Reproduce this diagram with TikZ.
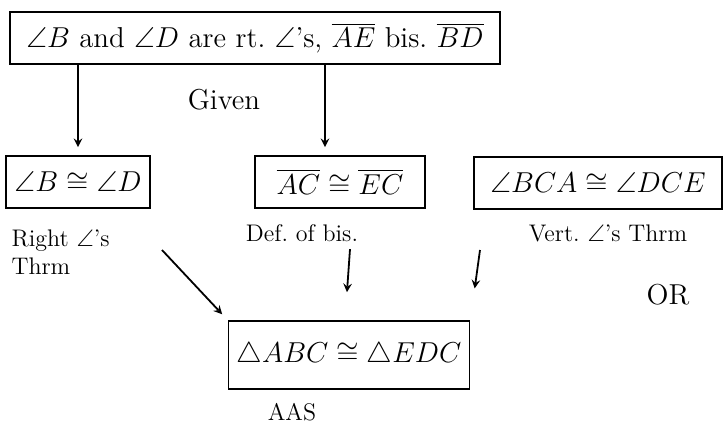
\documentclass[tikz,border=0pt]{standalone}
\usepackage{amssymb}
\usetikzlibrary{positioning}

\begin{document}
\begin{tikzpicture}[x=0.5pt,y=-0.5pt,font=\Large,line width=0.9pt]
    \tikzset{
        stmt/.style={draw,rectangle,inner xsep=4pt,inner ysep=5pt,minimum height=26pt},
        reason/.style={align=left,font=\large},
        flow/.style={->,>=stealth,shorten >=4pt}
    }
    \useasboundingbox (0,0) rectangle (724,434);

    % statements
    \node[stmt,minimum width=245pt] (given) at (255,38)
        {$\angle B$ and $\angle D$ are rt.\ $\angle$'s, $\overline{AE}$ bis.\ $\overline{BD}$};
    \node[stmt,minimum width=72pt] (rtang) at (78,182) {$\angle B\cong\angle D$};
    \node[stmt,minimum width=85pt] (bis) at (340,182) {$\overline{AC}\cong\overline{EC}$};
    \node[stmt,minimum width=124pt] (vert) at (598,183) {$\angle BCA\cong\angle DCE$};
    \node[stmt,minimum width=118pt,minimum height=34pt] (tri) at (349,355)
        {$\triangle ABC\cong\triangle EDC$};

    % reasons
    \node[reason,font=\Large] (givenlbl) at (224,100) {Given};
    \node[reason,anchor=north west] (rtanglbl) at (4,222) {Right $\angle$'s\\Thrm};
    \node[reason] (bislbl) at (302,233) {Def.\ of bis.};
    \node[reason] (vertlbl) at (608,233) {Vert.\ $\angle$'s Thrm};
    \node[reason] (aas) at (292,412) {AAS};
    \node (alt) at (668,295) {OR};

    \coordinate (a1) at (162,250);
    \coordinate (a3) at (480,250);

    \draw[flow] (given.south -| rtang) -- (rtang.north);
    \draw[flow] (given.south -| 325,0) -- (bis.north -| 325,0);
    \draw[flow] (a1) -- (tri.north west);
    \draw[flow,shorten >=14pt] (bislbl.south -| 350,0) -- (tri.north -| 345,0);
    \draw[flow,shorten >=16pt] (a3) -- (tri.north east);
\end{tikzpicture}
\end{document}
